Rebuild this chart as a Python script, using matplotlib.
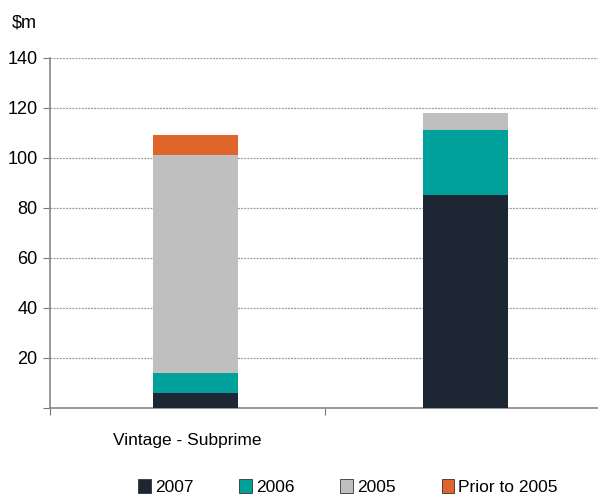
import matplotlib.pyplot as plt
from matplotlib.patches import Patch

plt.rcParams['font.family'] = ['Liberation Sans', 'DejaVu Sans']

# data
categories = ["Vintage - Subprime", ""]
series = ["2007", "2006", "2005", "Prior to 2005"]
v2007 = [6, 85]
v2006 = [8, 26]
v2005 = [87, 7]
vprior = [8, 0]
colors = ["#1C2733", "#00A19A", "#BFBFBF", "#E0652A"]
yticks = [0, 20, 40, 60, 80, 100, 120, 140]
ytick_labels = ["", "20", "40", "60", "80", "100", "120", "140"]

fig = plt.figure(figsize=(5.98, 4.98), dpi=100)
ax = fig.add_axes([50/598, 90/498, 550/598, 350/498])

x = [0.03, 1.01]
bottom = [0, 0]
for vals, col in zip([v2007, v2006, v2005, vprior], colors):
    ax.bar(x, vals, width=0.31, bottom=bottom, color=col, zorder=3)
    bottom = [b + v for b, v in zip(bottom, vals)]

ax.set_ylim(0, 140)
ax.set_xlim(-0.5, 1.5)
ax.set_yticks(yticks)
ax.set_yticklabels(ytick_labels, fontsize=13)
ax.yaxis.grid(True, linestyle=(0, (1.5, 1)), color="#999999", linewidth=0.9)
ax.set_axisbelow(True)

# category labels and separator ticks
ax.set_xticks([-0.5, 0.5, 1.5])
ax.set_xticklabels([])
ax.set_xticks([0, 1], minor=True)
ax.set_xticklabels(categories, minor=True, fontsize=12.5)
ax.tick_params(axis="x", which="minor", length=0, pad=18)
ax.tick_params(axis="x", which="major", length=5, color="#777777")
ax.tick_params(axis="y", length=5, color="#777777", pad=4)

for s in ["top", "right"]:
    ax.spines[s].set_visible(False)
for s in ["left", "bottom"]:
    ax.spines[s].set_color("#888888")
    ax.spines[s].set_linewidth(1.2)

fig.text(12/598, 1 - 23/498, "$m", fontsize=13, va="center", ha="left")

handles = [Patch(facecolor=c, edgecolor="#333333", linewidth=0.6) for c in colors]
fig.legend(handles, series, loc="lower center", bbox_to_anchor=(0.582, -0.025), ncol=4,
           frameon=False, fontsize=12.5, handlelength=0.7, handleheight=0.9,
           handletextpad=0.25, columnspacing=2.65)

fig.savefig("out.png", dpi=100)
